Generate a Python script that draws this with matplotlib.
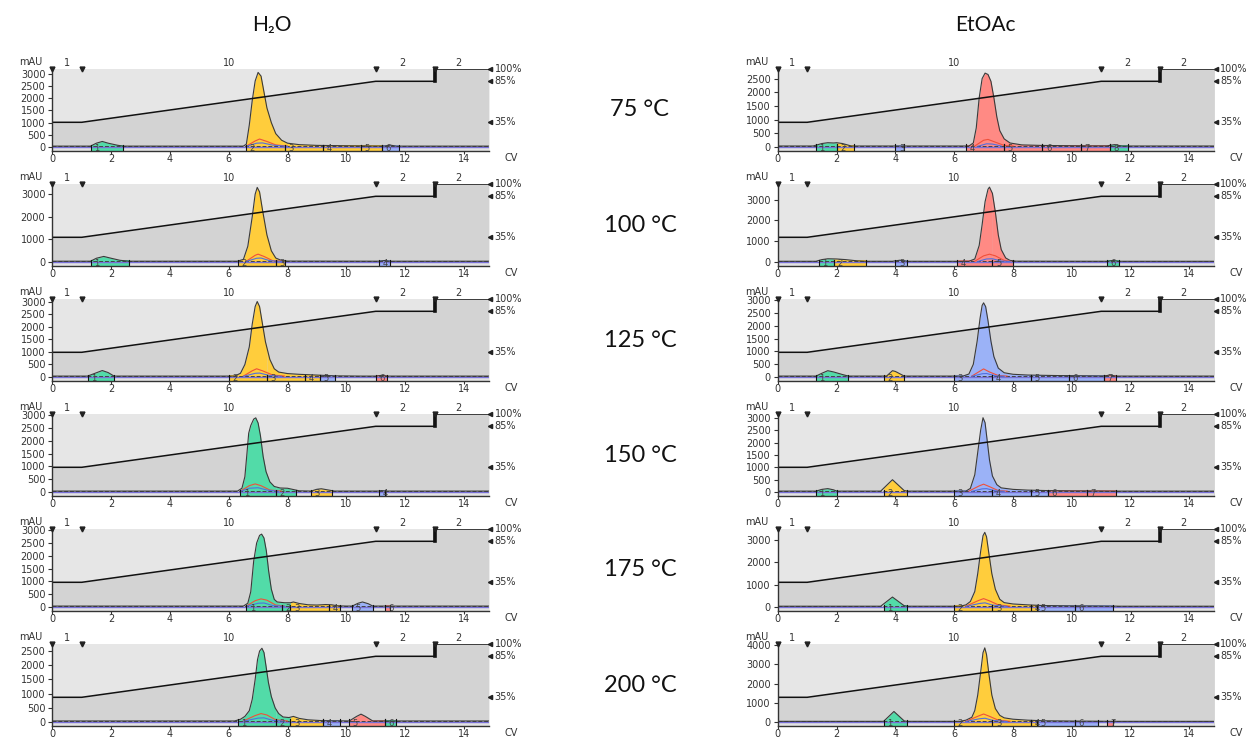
import numpy as np
import matplotlib
matplotlib.use('Agg')
import matplotlib.pyplot as plt
from matplotlib.patches import Rectangle
import matplotlib.transforms as mtransforms

# ---------------- data ----------------
COLUMN_TITLES = ['H₂O', 'EtOAc']
TEMPERATURES = ['75 °C', '100 °C', '125 °C', '150 °C', '175 °C', '200 °C']

# panels in row-major order: (H2O, EtOAc) for each temperature
Y_MAX = [3190, 2850, 3450, 3750, 3100, 3050, 3050, 3150, 3050, 3500, 2750, 4050]
Y_TICKS = [
    [0, 500, 1000, 1500, 2000, 2500, 3000], [0, 500, 1000, 1500, 2000, 2500],
    [0, 1000, 2000, 3000], [0, 1000, 2000, 3000],
    [0, 500, 1000, 1500, 2000, 2500, 3000], [0, 500, 1000, 1500, 2000, 2500, 3000],
    [0, 500, 1000, 1500, 2000, 2500, 3000], [0, 500, 1000, 1500, 2000, 2500, 3000],
    [0, 500, 1000, 1500, 2000, 2500, 3000], [0, 1000, 2000, 3000],
    [0, 500, 1000, 1500, 2000, 2500], [0, 1000, 2000, 3000, 4000],
]
X_TICKS = [0, 2, 4, 6, 8, 10, 12, 14]

GRADIENT_CV = [0, 1, 11, 13, 13, 14.85]
GRADIENT_PCT = [35, 35, 85, 85, 100, 100]
PCT_MARKS = [100, 85, 35]
SEGMENT_LABELS = ['1', '10', '2', '2']
SEGMENT_CV = [0.5, 6.0, 11.9, 13.8]
EVENT_CV = [0, 1, 11, 13]

# UV trace (CV, mAU)
TRACE_H2O_75 = [(1.3, 40), (1.5, 160), (1.7, 230), (1.9, 160), (2.2, 80), (2.4, 40),
                (6.5, 40), (6.6, 120), (6.7, 900), (6.8, 1900), (6.9, 2700), (7.0, 3050), (7.1, 2900),
                (7.2, 2250), (7.3, 1600), (7.45, 1000), (7.6, 550), (7.8, 280), (8.0, 160), (8.4, 100),
                (9.0, 70), (10.0, 55), (11.0, 45), (11.3, 45), (11.5, 80), (11.7, 40)]
TRACE_EtOAc_75 = [(1.2, 40), (1.5, 130), (1.7, 160), (1.9, 150), (2.0, 160), (2.2, 130), (2.5, 40),
                  (6.5, 40), (6.65, 150), (6.75, 700), (6.85, 1800), (6.95, 2500), (7.05, 2700),
                  (7.15, 2650), (7.25, 2400), (7.35, 1800), (7.45, 1100), (7.55, 600), (7.7, 300),
                  (7.9, 150), (8.3, 80), (9.0, 60), (10.5, 45), (11.2, 45), (11.45, 90), (11.7, 40)]
TRACE_H2O_100 = [(1.3, 40), (1.5, 170), (1.75, 250), (2.0, 170), (2.3, 80), (2.6, 40),
                 (6.3, 40), (6.5, 120), (6.65, 700), (6.8, 2000), (6.9, 3000), (6.97, 3300), (7.05, 3100),
                 (7.15, 2300), (7.3, 1200), (7.45, 500), (7.6, 180), (7.8, 70), (8.0, 45),
                 (11.1, 40), (11.3, 70), (11.5, 40)]
TRACE_EtOAc_100 = [(1.3, 40), (1.5, 120), (1.7, 160), (2.0, 150), (2.3, 120), (2.7, 60), (3.0, 40),
                   (3.9, 40), (4.15, 90), (4.4, 40),
                   (6.5, 40), (6.7, 150), (6.85, 800), (6.95, 1800), (7.05, 2900), (7.15, 3500),
                   (7.2, 3600), (7.3, 3300), (7.4, 2400), (7.5, 1300), (7.6, 600), (7.75, 200),
                   (7.9, 80), (8.1, 45), (11.2, 40), (11.4, 80), (11.6, 40)]
TRACE_H2O_125 = [(1.2, 40), (1.45, 150), (1.7, 260), (1.9, 180), (2.1, 40),
                 (6.2, 40), (6.4, 150), (6.55, 500), (6.7, 1200), (6.8, 2100), (6.9, 2800), (6.97, 3000),
                 (7.05, 2800), (7.15, 2100), (7.25, 1400), (7.4, 700), (7.55, 330), (7.7, 200), (8.0, 140),
                 (8.4, 110), (8.8, 90), (9.2, 70), (9.6, 50), (10.5, 40), (11.0, 40), (11.2, 70), (11.4, 40)]
TRACE_EtOAc_125 = [(1.3, 40), (1.5, 150), (1.7, 250), (1.9, 200), (2.2, 100), (2.4, 40),
                   (3.7, 40), (3.9, 250), (4.0, 220), (4.3, 40),
                   (6.3, 40), (6.5, 120), (6.65, 500), (6.78, 1400), (6.88, 2300), (6.95, 2800), (7.0, 2900),
                   (7.07, 2750), (7.15, 2200), (7.25, 1400), (7.35, 800), (7.5, 350), (7.7, 170), (8.0, 110),
                   (8.5, 80), (9.5, 60), (10.5, 50), (11.1, 45), (11.3, 80), (11.5, 40)]
TRACE_H2O_150 = [(6.3, 40), (6.45, 150), (6.55, 600), (6.62, 1500), (6.68, 2300), (6.75, 2600),
                 (6.85, 2850), (6.92, 2900), (7.0, 2700), (7.08, 2200), (7.17, 1400), (7.27, 800),
                 (7.4, 400), (7.55, 220), (7.75, 160), (8.0, 150), (8.2, 100), (8.4, 50),
                 (8.8, 40), (9.0, 110), (9.15, 130), (9.35, 90), (9.6, 40), (11.1, 40), (11.2, 60), (11.35, 40)]
TRACE_EtOAc_150 = [(1.3, 40), (1.5, 110), (1.7, 140), (1.9, 90), (2.0, 40),
                   (3.5, 40), (3.9, 500), (4.3, 60), (4.4, 40),
                   (6.4, 40), (6.55, 150), (6.7, 700), (6.8, 1600), (6.9, 2500), (6.98, 3000), (7.05, 2800),
                   (7.12, 2100), (7.2, 1300), (7.3, 650), (7.45, 300), (7.6, 170), (8.0, 110), (8.5, 80),
                   (9.2, 60), (10.0, 50), (11.0, 45), (11.5, 40)]
TRACE_H2O_175 = [(6.5, 40), (6.65, 150), (6.75, 600), (6.85, 1800), (6.95, 2500), (7.05, 2800),
                 (7.12, 2850), (7.2, 2700), (7.28, 2200), (7.36, 1400), (7.45, 700), (7.55, 300),
                 (7.65, 200), (7.9, 170), (8.1, 170), (8.2, 200), (8.4, 140), (8.7, 90), (9.0, 80),
                 (9.3, 100), (9.5, 90), (9.7, 50), (10.0, 40),
                 (10.2, 40), (10.4, 150), (10.55, 200), (10.75, 130), (10.9, 40)]
TRACE_EtOAc_175 = [(3.5, 40), (3.9, 450), (4.3, 60), (4.4, 40),
                   (6.2, 40), (6.4, 100), (6.55, 250), (6.7, 700), (6.8, 1500), (6.9, 2500), (6.98, 3200),
                   (7.04, 3350), (7.1, 3150), (7.18, 2400), (7.28, 1500), (7.4, 800), (7.55, 350),
                   (7.7, 200), (8.0, 140), (8.5, 100), (9.0, 70), (10.0, 55), (11.0, 50), (11.4, 45), (11.6, 40)]
TRACE_H2O_200 = [(6.2, 40), (6.4, 100), (6.55, 200), (6.7, 400), (6.8, 800), (6.9, 1500), (6.98, 2200),
                 (7.05, 2500), (7.13, 2600), (7.2, 2450), (7.28, 1900), (7.35, 1400), (7.45, 900),
                 (7.58, 500), (7.7, 300), (7.85, 180), (8.05, 160), (8.2, 200), (8.4, 130), (8.7, 80),
                 (9.2, 50), (9.8, 45), (10.1, 40), (10.35, 200), (10.5, 280), (10.65, 200), (10.9, 40)]
TRACE_EtOAc_200 = [(3.6, 40), (3.95, 550), (4.3, 60), (4.4, 40),
                   (6.2, 40), (6.4, 100), (6.6, 250), (6.7, 600), (6.8, 1400), (6.9, 2600), (6.98, 3600),
                   (7.04, 3850), (7.1, 3500), (7.18, 2500), (7.28, 1400), (7.4, 700), (7.55, 350),
                   (7.7, 220), (8.0, 150), (8.5, 100), (9.0, 70), (10.0, 55), (11.0, 45), (11.3, 40)]
TRACES = [TRACE_H2O_75, TRACE_EtOAc_75, TRACE_H2O_100, TRACE_EtOAc_100, TRACE_H2O_125, TRACE_EtOAc_125,
          TRACE_H2O_150, TRACE_EtOAc_150, TRACE_H2O_175, TRACE_EtOAc_175, TRACE_H2O_200, TRACE_EtOAc_200]

# secondary wavelength traces under the main peak: (CV, mAU)
SECOND_TRACE = [
    [(6.6, 40), (6.9, 250), (7.05, 330), (7.3, 230), (7.6, 90), (8.0, 40)],
    [(6.7, 40), (7.0, 250), (7.15, 280), (7.35, 200), (7.7, 60), (8.0, 40)],
    [(6.6, 40), (6.9, 300), (7.0, 350), (7.2, 250), (7.5, 60), (7.8, 40)],
    [(6.7, 40), (7.0, 300), (7.2, 380), (7.4, 300), (7.7, 80), (7.9, 40)],
    [(6.5, 40), (6.8, 250), (6.95, 330), (7.15, 250), (7.5, 80), (7.9, 40)],
    [(6.6, 40), (6.9, 250), (7.0, 320), (7.2, 200), (7.5, 60), (7.8, 40)],
    [(6.4, 40), (6.7, 250), (6.9, 320), (7.1, 250), (7.4, 80), (7.8, 40)],
    [(6.5, 40), (6.85, 250), (7.0, 320), (7.2, 220), (7.5, 60), (7.8, 40)],
    [(6.6, 40), (6.9, 250), (7.1, 320), (7.3, 270), (7.6, 80), (7.9, 40)],
    [(6.4, 40), (6.8, 280), (7.0, 380), (7.2, 280), (7.5, 100), (7.9, 40)],
    [(6.5, 40), (6.9, 230), (7.1, 300), (7.3, 250), (7.6, 80), (8.0, 40)],
    [(6.4, 40), (6.8, 300), (7.0, 420), (7.2, 300), (7.5, 100), (7.9, 40)],
]
THIRD_TRACE = [
    [(6.6, 30), (6.95, 160), (7.15, 170), (7.5, 80), (8.0, 30)],
    [(6.8, 30), (7.1, 120), (7.3, 110), (7.6, 40)],
    [(6.6, 30), (6.95, 170), (7.1, 180), (7.4, 60), (7.8, 30)],
    [(6.8, 30), (7.1, 150), (7.3, 160), (7.6, 50), (7.9, 30)],
    [(6.5, 30), (6.9, 150), (7.05, 160), (7.4, 60), (7.8, 30)],
    [(6.6, 30), (6.95, 130), (7.1, 140), (7.4, 50), (7.7, 30)],
    [(6.4, 30), (6.7, 150), (7.0, 170), (7.3, 80), (7.7, 30)],
    [(6.6, 30), (6.95, 130), (7.1, 140), (7.4, 50), (7.7, 30)],
    [(6.6, 30), (7.0, 150), (7.2, 160), (7.5, 60), (7.9, 30)],
    [(6.4, 30), (6.85, 160), (7.05, 190), (7.3, 90), (7.8, 30)],
    [(6.5, 30), (7.0, 140), (7.2, 150), (7.5, 60), (7.9, 30)],
    [(6.4, 30), (6.85, 170), (7.05, 200), (7.3, 90), (7.8, 30)],
]

# fractions: (start CV, end CV, colour key, label)
FRACTIONS = [
    [(1.3, 2.4, 'g', '1'), (6.6, 7.9, 'y', '2'), (7.9, 9.2, 'y', '3'), (9.2, 10.5, 'y', '4'),
     (10.5, 11.2, 'y', '5'), (11.2, 11.8, 'b', '6')],
    [(1.3, 2.0, 'g', '1'), (2.0, 2.6, 'y', '2'), (4.0, 4.3, 'b', '3'), (6.4, 7.7, 'r', '4'),
     (7.7, 9.0, 'r', '5'), (9.0, 10.3, 'r', '6'), (10.3, 11.3, 'r', '7'), (11.3, 11.9, 'g', '8')],
    [(1.3, 2.6, 'g', '1'), (6.3, 7.6, 'y', '2'), (7.6, 7.9, 'y', '3'), (11.1, 11.5, 'b', '4')],
    [(1.4, 1.9, 'g', '1'), (1.9, 3.0, 'y', '2'), (4.0, 4.4, 'b', '3'), (6.1, 7.3, 'r', '4'),
     (7.3, 8.0, 'r', '5'), (11.2, 11.6, 'g', '6')],
    [(1.2, 2.1, 'g', '1'), (6.0, 7.3, 'y', '2'), (7.3, 8.6, 'y', '3'), (8.6, 9.1, 'y', '4'),
     (9.1, 9.6, 'b', '5'), (11.0, 11.4, 'r', '6')],
    [(1.3, 2.4, 'g', '1'), (3.6, 4.3, 'y', '2'), (6.0, 7.3, 'b', '3'), (7.3, 8.6, 'b', '4'),
     (8.6, 9.9, 'b', '5'), (9.9, 11.1, 'b', '6'), (11.1, 11.5, 'r', '7')],
    [(6.4, 7.6, 'g', '1'), (7.6, 8.3, 'g', '2'), (8.8, 9.5, 'y', '3'), (11.1, 11.3, 'b', '4')],
    [(1.3, 2.0, 'g', '1'), (3.6, 4.4, 'y', '2'), (6.0, 7.3, 'b', '3'), (7.3, 8.6, 'b', '4'),
     (8.6, 9.2, 'b', '5'), (9.2, 10.5, 'r', '6'), (10.5, 11.5, 'r', '7')],
    [(6.6, 7.8, 'g', '1'), (7.8, 8.1, 'g', '2'), (8.1, 9.4, 'y', '3'), (9.4, 9.8, 'y', '4'),
     (10.2, 10.9, 'b', '5'), (11.3, 11.5, 'r', '6')],
    [(3.6, 4.4, 'g', '1'), (6.0, 7.3, 'y', '2'), (7.3, 8.6, 'y', '3'), (8.6, 8.8, 'y', '4'),
     (8.8, 10.1, 'b', '5'), (10.1, 11.4, 'b', '6')],
    [(6.3, 7.6, 'g', '1'), (7.6, 8.1, 'g', '2'), (8.1, 9.2, 'y', '3'), (9.2, 9.8, 'b', '4'),
     (10.1, 11.3, 'r', '5'), (11.3, 11.7, 'g', '6')],
    [(3.6, 4.4, 'g', '1'), (6.0, 7.3, 'y', '2'), (7.3, 8.6, 'y', '3'), (8.6, 8.8, 'y', '4'),
     (8.8, 10.1, 'b', '5'), (10.1, 10.9, 'b', '6'), (11.2, 11.4, 'r', '7')],
]

# ---------------- style ----------------
COLORS = {'y': '#ffcd3c', 'g': '#52dba8', 'r': '#ff8a84', 'b': '#9bb2f7'}
BG_LIGHT = '#e6e6e6'
BG_DARK = '#d3d3d3'
STRIP = '#e2e2e2'
BASE = 40
XMAX = 14.85
W, H = 1257, 738
LEFT_PX = [52.3, 777.8]
AX_W_PX = XMAX * 29.4
ROW_TOP_PX = 69.0
ROW_STEP_PX = 115.0
AX_H_PX = 82.0
TICK_FS = 7
TXT = '#333333'

plt.rcParams['font.family'] = ['DejaVu Sans']

fig = plt.figure(figsize=(W / 100, H / 100), dpi=100)
fig.patch.set_facecolor('white')


def draw_panel(ax, idx):
    ymax = Y_MAX[idx]
    ymin = -0.05 * ymax
    rng = ymax - ymin
    ax.set_xlim(0, XMAX)
    ax.set_ylim(ymin, ymax)
    ax.set_facecolor(BG_LIGHT)

    gy = [ymin + p / 100 * rng for p in GRADIENT_PCT]
    ax.fill_between(GRADIENT_CV, ymin, gy, color=BG_DARK, lw=0, zorder=0.5)
    ax.axhspan(ymin, -0.015 * ymax, color=STRIP, lw=0, zorder=0.6)

    fracs = FRACTIONS[idx]
    for s, e, c, lab in fracs:
        ax.add_patch(Rectangle((s, ymin), e - s, BASE + 0.01 * ymax - ymin,
                               facecolor=COLORS[c], edgecolor='none', zorder=1))

    tr = TRACES[idx]
    tx = [0] + [p[0] for p in tr] + [XMAX]
    ty = [BASE] + [p[1] for p in tr] + [BASE]
    xx = np.linspace(0, XMAX, 5000)
    yy = np.interp(xx, tx, ty)
    for s, e, c, lab in fracs:
        m = (xx >= s) & (xx <= e)
        ax.fill_between(xx, BASE, yy, where=m, color=COLORS[c], lw=0, zorder=2)

    ax.axhline(0, color='#7870d8', lw=1.0, zorder=2.2)
    ax.axhline(BASE + 0.005 * ymax, color='#444444', lw=0.7, ls=(0, (4, 2)), zorder=2.3)
    ax.plot(tx, ty, color='#3a3a3a', lw=0.8, zorder=2.5)
    st = SECOND_TRACE[idx]
    ax.plot([p[0] for p in st], [p[1] for p in st], color='#f0503a', lw=0.8, zorder=2.6)
    th = THIRD_TRACE[idx]
    ax.plot([p[0] for p in th], [p[1] for p in th], color='#4f6fe0', lw=0.8, zorder=2.6)

    for s, e, c, lab in fracs:
        for xv in (s, e):
            ax.plot([xv, xv], [ymin, BASE + 0.02 * ymax], color='#111111', lw=0.8, zorder=3)
        ax.text(s + 0.12, (ymin + BASE) / 2 + 0.005 * ymax, lab, fontsize=6, ha='left', va='center',
                color='#444444', zorder=4)

    # gradient line
    ax.plot(GRADIENT_CV, gy, color='#111111', lw=1.1, zorder=4, solid_joinstyle='miter')
    ax.plot([GRADIENT_CV[3], GRADIENT_CV[4]], [gy[3], gy[4]], color='#111111', lw=2.6, zorder=4)

    # event markers & segment labels
    ax.plot(EVENT_CV, [ymax] * len(EVENT_CV), ls='none', marker='v', ms=3.5, color='#222222',
            clip_on=False, zorder=6)
    for xv, lab in zip(SEGMENT_CV, SEGMENT_LABELS):
        ax.text(xv, ymax + 0.012 * rng, lab, fontsize=TICK_FS, ha='center', va='bottom', color=TXT)

    # percent marks on the right
    for p in PCT_MARKS:
        yv = ymin + p / 100 * rng
        ax.plot([XMAX + 0.05], [yv], ls='none', marker='<', ms=3, color='#222222', clip_on=False)
        ax.text(XMAX + 0.2, yv, f'{p}%', fontsize=TICK_FS, ha='left', va='center', color=TXT)

    ax.set_yticks(Y_TICKS[idx])
    ax.set_xticks(X_TICKS)
    ax.tick_params(axis='y', labelsize=TICK_FS, colors=TXT, length=3, width=0.8, pad=2)
    ax.tick_params(axis='x', labelsize=TICK_FS, colors=TXT, length=2, width=0.8, pad=0.5)
    for sp in ('top', 'right'):
        ax.spines[sp].set_visible(False)
    for sp in ('left', 'bottom'):
        ax.spines[sp].set_color('#333333')
        ax.spines[sp].set_linewidth(1.0)
        ax.spines[sp].set_zorder(5)
    ax.text(-0.022, 1.02, 'mAU', transform=ax.transAxes, fontsize=TICK_FS, ha='right', va='bottom',
            color=TXT)
    ax.text(15.6, -0.03, 'CV', transform=mtransforms.blended_transform_factory(ax.transData, ax.transAxes),
            fontsize=TICK_FS, ha='center', va='top', color=TXT, clip_on=False)


for idx in range(12):
    row, col = divmod(idx, 2)
    top_px = ROW_TOP_PX + ROW_STEP_PX * row
    ax = fig.add_axes([LEFT_PX[col] / W, 1 - (top_px + AX_H_PX) / H, AX_W_PX / W, AX_H_PX / H])
    draw_panel(ax, idx)

title_font = ['Lato', 'DejaVu Sans']
fig.text(272 / W, 1 - 25 / H, COLUMN_TITLES[0], fontsize=15, ha='center', va='center',
         family=title_font, color='#111111')
fig.text(985 / W, 1 - 25 / H, COLUMN_TITLES[1], fontsize=15, ha='center', va='center',
         family=title_font, color='#111111')
for row, t in enumerate(TEMPERATURES):
    fig.text(640 / W, 1 - (110 + ROW_STEP_PX * row) / H, t, fontsize=17, ha='center', va='center',
             family=title_font, color='#111111')

fig.savefig('out.png', dpi=100, facecolor='white')
